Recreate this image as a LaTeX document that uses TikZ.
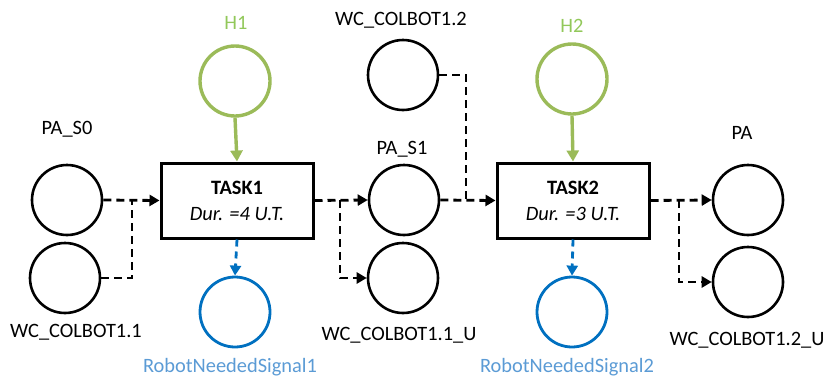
\documentclass[tikz,border=0pt]{standalone}
\usepackage{fontspec}
\setmainfont{Carlito}
\usetikzlibrary{arrows.meta}
\definecolor{hgreen}{HTML}{9BBB59}
\definecolor{hgreentext}{HTML}{92C85A}
\definecolor{rblue}{HTML}{0070C0}
\definecolor{rbluetext}{HTML}{5B9BD5}
\tikzset{
  place/.style={circle, draw=black, line width=2.6pt, minimum size=70pt, inner sep=0pt},
  hplace/.style={place, draw=hgreen, line width=3.4pt},
  rplace/.style={place, draw=rblue, line width=2.8pt},
  taskbox/.style={draw=black, line width=3pt, minimum width=152pt, minimum height=75pt, align=center, inner sep=0pt,
    font=\fontsize{20.4}{26}\selectfont},
  lbl/.style={anchor=base, inner sep=0pt, font=\fontsize{20.4}{24}\selectfont},
  arc/.style={draw=black, line width=2.8pt, dash pattern=on 8pt off 5pt},
  arcarrow/.style={arc, -{Triangle[length=10pt,width=11pt]}},
  harc/.style={draw=hgreen, line width=3.4pt, -{Triangle[length=11pt,width=12pt]}},
  rarc/.style={draw=rblue, line width=2.8pt, dash pattern=on 7pt off 5pt, -{Triangle[length=10pt,width=11pt]}},
}
\begin{document}
\begin{tikzpicture}[x=1pt,y=-1pt]
\useasboundingbox (0,0) rectangle (826,378);
% places
\node[place] (pas0) at (67,200) {};
\node[place] (w11) at (65,278) {};
\node[hplace] (h1) at (235,81) {};
\node[rplace] (r1) at (235,312) {};
\node[place] (w12) at (403,75) {};
\node[place] (pas1) at (404,200) {};
\node[place] (w11u) at (403,278) {};
\node[hplace] (h2) at (572,79) {};
\node[rplace] (r2) at (572,312) {};
\node[place] (pa) at (748,200) {};
\node[place] (w12u) at (748,282) {};
% transitions
\node[taskbox] (t1) at (237,200.5) {\textbf{TASK1}\\\textit{Dur. =4 U.T.}};
\node[taskbox] (t2) at (573,200.5) {\textbf{TASK2}\\\textit{Dur. =3 U.T.}};
% labels
\node[lbl] (lpas0) at (67,134) {PA\_S0};
\node[lbl] (lw11) at (76,337) {WC\_COLBOT1.1};
\node[lbl, text=hgreentext] (lh1) at (236,29) {H1};
\node[lbl, text=rbluetext] (lr1) at (230,372) {RobotNeededSignal1};
\node[lbl] (lw12) at (401,25) {WC\_COLBOT1.2};
\node[lbl] (lpas1) at (402,154) {PA\_S1};
\node[lbl, text=hgreentext] (lh2) at (572,32) {H2};
\node[lbl] (lw11u) at (399,340) {WC\_COLBOT1.1\_U};
\node[lbl, text=rbluetext] (lr2) at (567,372) {RobotNeededSignal2};
\node[lbl] (lpa) at (742,139) {PA};
\node[lbl] (lw12u) at (747,345) {WC\_COLBOT1.2\_U};
% junction coordinates
\coordinate (j1) at (132,200);
\coordinate (j2) at (340,200);
\coordinate (j3) at (466,200);
\coordinate (j4) at (679,200);
% arcs
\draw[arcarrow] (pas0.east) -- (t1.west);
\draw[arc] (w11.east) -| (j1);
\draw[arcarrow] (t1.east) -- (pas1.west);
\draw[arcarrow] (j2) |- (w11u.west);
\draw[arc] (w12.east) -| (j3);
\draw[arcarrow] (pas1.east) -- (t2.west);
\draw[arcarrow] (t2.east) -- (pa.west);
\draw[arcarrow] (j4) |- (w12u.west);
\draw[harc] (h1.south) -- (t1.north);
\draw[harc] (h2.south) -- (t2.north);
\draw[rarc] (t1.south) -- (r1.north);
\draw[rarc] (t2.south) -- (r2.north);
\end{tikzpicture}
\end{document}
